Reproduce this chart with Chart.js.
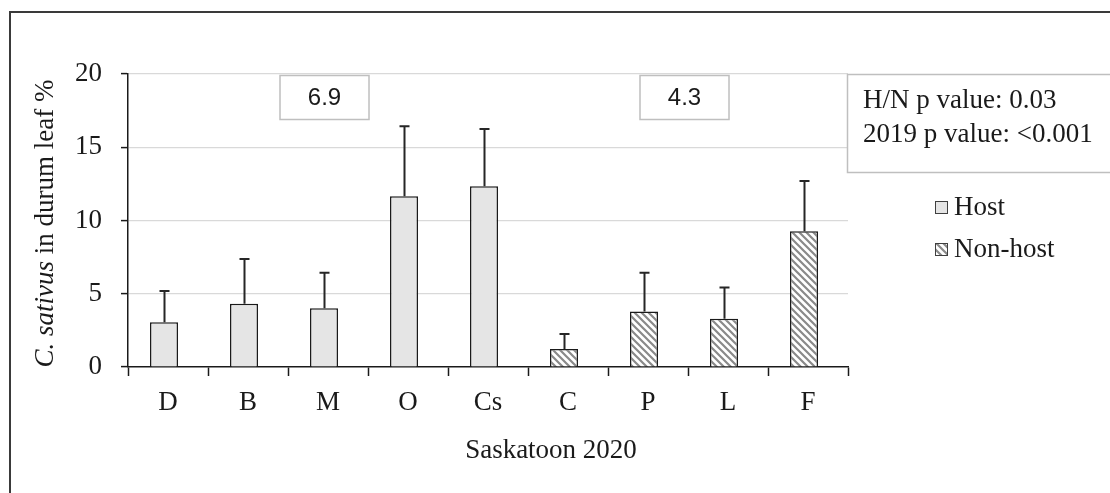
<!DOCTYPE html>
<html>
<head>
<meta charset="utf-8">
<script src="https://cdn.jsdelivr.net/npm/chart.js@4/dist/chart.umd.min.js"></script>
<style>
  html, body { margin: 0; padding: 0; background: #fff; }
  #wrap { width: 1110px; height: 493px; position: relative; }
</style>
</head>
<body>
<div id="wrap"><canvas id="c" width="1110" height="493"></canvas></div>
<script>
// Treatments (crop codes) along the x axis
const categories = ['D', 'B', 'M', 'O', 'Cs', 'C', 'P', 'L', 'F'];
// Mean C. sativus incidence (%) — host crops and non-host crops
const hostMeans    = [3.05, 4.32, 4.01, 11.66, 12.33, null, null, null, null];
const nonHostMeans = [null, null, null, null, null, 1.23, 3.79, 3.29, 9.27];
// Upper error bar length for each treatment
const upperErrors  = [2.13, 3.05, 2.43, 4.78, 3.92, 1.03, 2.65, 2.14, 3.43];
// Y axis ticks
const yTicks = [0, 5, 10, 15, 20];
// Group LSD labels and statistics text
const groupLabels = ['6.9', '4.3'];
const groupLabelSpans = [[0, 4], [5, 8]];   // first and last category of each group
const statLines = ['H/N p value: 0.03', '2019 p value: <0.001'];
const seriesNames = ['Host', 'Non-host'];
const xTitle = 'Saskatoon 2020';
const yTitleItalic = 'C. sativus';
const yTitleRest = ' in durum leaf %';

const SERIF = '"Liberation Serif", "Times New Roman", serif';
const SANS = '"Liberation Sans", Arial, sans-serif';
const INK = '#1a1a1a';
const BAR_SHIFT = -4;   // bars sit slightly left of the category centre

function makeHatch(size) {
  const p = document.createElement('canvas');
  p.width = size; p.height = size;
  const g = p.getContext('2d');
  g.fillStyle = '#ffffff';
  g.fillRect(0, 0, size, size);
  g.strokeStyle = '#8a8a8a';
  g.lineWidth = 2.2;
  g.lineCap = 'square';
  g.beginPath();
  g.moveTo(-size, 0); g.lineTo(size, 2 * size);
  g.moveTo(0, 0); g.lineTo(size, size);
  g.moveTo(0, -size); g.lineTo(2 * size, size);
  g.stroke();
  return g.createPattern(p, 'repeat');
}

const ctx = document.getElementById('c').getContext('2d');
const hatch = makeHatch(7);

const decorations = {
  id: 'decorations',
  afterDatasetsUpdate(chart) {
    chart.data.datasets.forEach((ds, di) => {
      chart.getDatasetMeta(di).data.forEach(el => { el.x += BAR_SHIFT; });
    });
  },
  beforeDraw(chart) {
    const c = chart.ctx;
    c.save();
    c.fillStyle = '#fff';
    c.fillRect(0, 0, chart.width, chart.height);
    c.strokeStyle = '#3a3a3a';
    c.lineWidth = 2;
    c.strokeRect(10, 12, chart.width + 20, chart.height + 20);
    c.restore();
  },
  afterDatasetsDraw(chart) {
    const c = chart.ctx;
    const y = chart.scales.y;
    c.save();
    c.strokeStyle = '#262626';
    c.lineWidth = 2;
    categories.forEach((cat, i) => {
      const di = hostMeans[i] !== null ? 0 : 1;
      const v = di === 0 ? hostMeans[i] : nonHostMeans[i];
      const bar = chart.getDatasetMeta(di).data[i];
      const x = Math.round(bar.x) + 0.5;
      const yb = y.getPixelForValue(v);
      const yt = y.getPixelForValue(v + upperErrors[i]);
      c.beginPath();
      c.moveTo(x, yb); c.lineTo(x, yt);
      c.moveTo(x - 5, yt); c.lineTo(x + 5, yt);
      c.stroke();
    });
    c.restore();
  },
  afterDraw(chart) {
    const c = chart.ctx;
    const xs = chart.scales.x;
    const area = chart.chartArea;
    c.save();

    // group label boxes
    c.font = '24px ' + SANS;
    c.textAlign = 'center';
    c.textBaseline = 'middle';
    groupLabels.forEach((txt, k) => {
      const [a, b] = groupLabelSpans[k];
      const cx = Math.round((xs.getPixelForValue(a) + xs.getPixelForValue(b)) / 2) + BAR_SHIFT + 0.5;
      const w = 89, h = 44, top = 75.5;
      c.fillStyle = '#fff';
      c.fillRect(cx - w / 2, top, w, h);
      c.strokeStyle = '#bfbfbf';
      c.lineWidth = 1.5;
      c.strokeRect(cx - w / 2, top, w, h);
      c.fillStyle = INK;
      c.fillText(txt, cx, top + h / 2 + 1);
    });

    // statistics box
    c.fillStyle = '#fff';
    c.fillRect(847.5, 74.5, 300, 98);
    c.strokeStyle = '#bfbfbf';
    c.lineWidth = 1.5;
    c.strokeRect(847.5, 74.5, 300, 98);
    c.fillStyle = INK;
    c.font = '27px ' + SERIF;
    c.textAlign = 'left';
    c.textBaseline = 'middle';
    statLines.forEach((t, k) => c.fillText(t, 863, 101 + k * 34));

    // legend
    const legendY = [208, 250];
    seriesNames.forEach((name, k) => {
      const ds = chart.data.datasets[k];
      c.fillStyle = ds.backgroundColor;
      c.fillRect(935, legendY[k] - 7, 13, 13);
      c.strokeStyle = '#404040';
      c.lineWidth = 1;
      c.strokeRect(935.5, legendY[k] - 6.5, 12, 12);
      c.fillStyle = INK;
      c.font = '27px ' + SERIF;
      c.fillText(name, 954, legendY[k]);
    });

    // x axis title
    c.textAlign = 'center';
    c.fillText(xTitle, 551, 451);

    // y axis title (rotated, species name in italics)
    c.translate(46, (area.top + area.bottom) / 2 + 3);
    c.rotate(-Math.PI / 2);
    c.font = 'italic 27px ' + SERIF;
    const w1 = c.measureText(yTitleItalic).width;
    c.font = '27px ' + SERIF;
    const w2 = c.measureText(yTitleRest).width;
    let x0 = -(w1 + w2) / 2;
    c.textAlign = 'left';
    c.font = 'italic 27px ' + SERIF;
    c.fillText(yTitleItalic, x0, 0);
    c.font = '27px ' + SERIF;
    c.fillText(yTitleRest, x0 + w1, 0);
    c.restore();
  }
};

new Chart(ctx, {
  type: 'bar',
  data: {
    labels: categories,
    datasets: [
      {
        label: seriesNames[0],
        data: hostMeans,
        backgroundColor: '#e5e5e5',
        borderColor: INK,
        borderWidth: 1.5,
        borderSkipped: 'bottom',
        grouped: false,
        categoryPercentage: 1,
        barPercentage: 0.35
      },
      {
        label: seriesNames[1],
        data: nonHostMeans,
        backgroundColor: hatch,
        borderColor: INK,
        borderWidth: 1.5,
        borderSkipped: 'bottom',
        grouped: false,
        categoryPercentage: 1,
        barPercentage: 0.35
      }
    ]
  },
  options: {
    responsive: false,
    animation: false,
    devicePixelRatio: 1,
    layout: { padding: { left: 0, right: 262, top: 74, bottom: 0 } },
    plugins: { legend: { display: false }, tooltip: { enabled: false } },
    scales: {
      x: {
        grid: {
          display: true, drawOnChartArea: false, drawTicks: true,
          tickLength: 9, tickColor: INK, tickWidth: 1.5, offset: true
        },
        border: { display: true, color: INK, width: 1.5 },
        ticks: { font: { family: SERIF, size: 27 }, color: INK, padding: 11, maxRotation: 0 },
        afterFit: (s) => { s.height = 126; }
      },
      y: {
        min: 0, max: 20,
        afterBuildTicks: (s) => { s.ticks = yTicks.map(v => ({ value: v })); },
        grid: {
          color: (c) => (c.tick && c.tick.value === 0) ? 'rgba(0,0,0,0)' : '#d9d9d9',
          lineWidth: 1.2, tickColor: INK, tickWidth: 1.5, tickLength: 7
        },
        border: { display: true, color: INK, width: 1.5 },
        ticks: { font: { family: SERIF, size: 27 }, color: INK, padding: 19 },
        afterFit: (s) => { s.width = 128; }
      }
    }
  },
  plugins: [decorations]
});
</script>
</body>
</html>
